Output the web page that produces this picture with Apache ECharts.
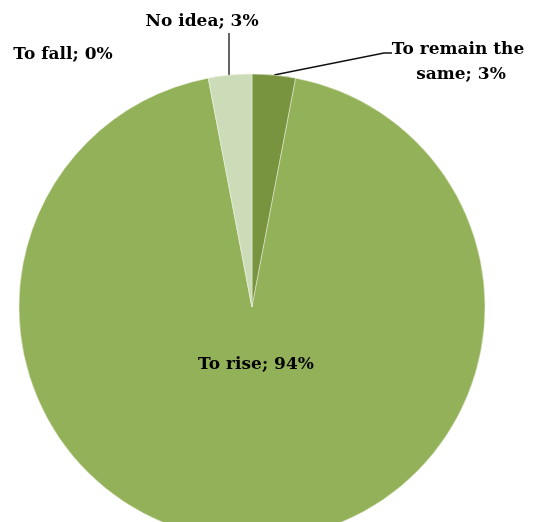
<!DOCTYPE html>
<html>
<head>
<meta charset="utf-8">
<script src="https://cdn.jsdelivr.net/npm/echarts@6/dist/echarts.min.js"></script>
<style>
  html, body { margin: 0; padding: 0; background: #fff; }
  #main { width: 533px; height: 522px; }
</style>
</head>
<body>
<div id="main"></div>
<script>
// data
var categories = ['To remain the same', 'To rise', 'To fall', 'No idea']
var shares = [3, 94, 0, 3]
var sliceColors = ['#79943f', '#93b158', '#93b158', '#cddcb8']

// where each label sits (pixels) and its leader line
var labelPos = [
  [461, 62],
  [256, 365],
  [63, 55],
  [202, 22],
]
var leaderLines = [
  [[274, 75], [384, 53], [392, 53]],
  null,
  null,
  [[229, 75], [229, 33]],
]

var chartDom = document.getElementById('main')
var myChart = echarts.init(chartDom)

var pieData = categories.map(function (name, i) {
  var item = {
    name: name,
    value: shares[i],
    itemStyle: { color: sliceColors[i] },
  }
  if (i === 0) {
    item.label = { width: 150, overflow: 'break', align: 'center' }
  }
  if (!leaderLines[i]) {
    item.labelLine = { show: false }
  }
  return item
})

var option = {
  animation: false,
  series: [
    {
      type: 'pie',
      center: [252, 307],
      radius: 233,
      startAngle: 90,
      clockwise: true,
      avoidLabelOverlap: false,
      minShowLabelAngle: -1,
      itemStyle: { borderColor: '#e8eedc', borderWidth: 0.5 },
      label: {
        show: true,
        position: 'outside',
        color: '#000',
        fontFamily: 'DejaVu Serif',
        fontWeight: 'bold',
        fontSize: 17,
        lineHeight: 25,
        formatter: function (p) {
          return p.name + '; ' + p.value + '%'
        },
      },
      labelLine: {
        show: true,
        length: 20,
        length2: 20,
        lineStyle: { color: '#111', width: 1.3 },
      },
      labelLayout: function (params) {
        var i = params.dataIndex
        var res = { x: labelPos[i][0], y: labelPos[i][1], align: 'center', verticalAlign: 'middle' }
        if (leaderLines[i]) res.labelLinePoints = leaderLines[i]
        return res
      },
      emphasis: { disabled: true },
      data: pieData,
    },
  ],
}

option && myChart.setOption(option)
</script>
</body>
</html>
